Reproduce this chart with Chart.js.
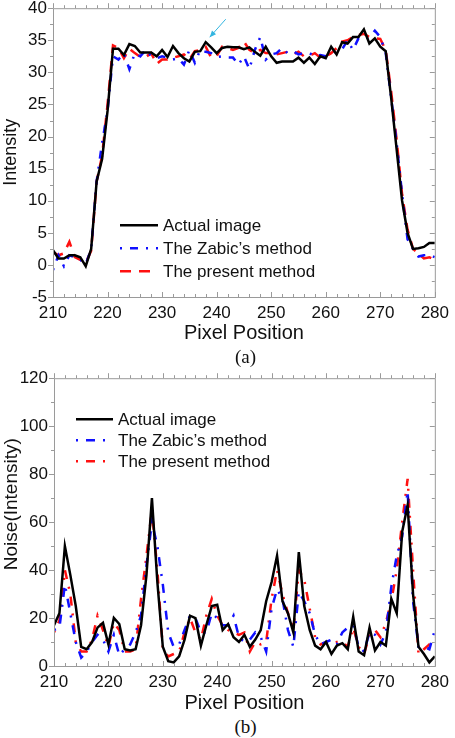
<!DOCTYPE html>
<html>
<head>
<meta charset="utf-8">
<script src="https://cdn.jsdelivr.net/npm/chart.js@4.4.0/dist/chart.umd.min.js"></script>
<style>
  body { margin: 0; background: #fff; width: 455px; height: 738px; position: relative; overflow: hidden; }
  canvas { position: absolute; left: 0; }
  #chartA { top: 0; }
  #chartB { top: 370px; }
  .caption { position: absolute; left: 18px; width: 455px; text-align: center; font: 19px "Liberation Serif", serif; color: #111; line-height: 22px; }
</style>
</head>
<body>
<canvas id="chartA" width="455" height="345"></canvas>
<canvas id="chartB" width="455" height="345"></canvas>
<div class="caption" style="top:346px">(a)</div>
<div class="caption" style="top:716px">(b)</div>
<script>
// pixel positions along the line profile
const pixels = [
  210, 211, 212, 213, 214, 215, 216, 217, 218, 219,
  220, 221, 222, 223, 224, 225, 226, 227, 228, 229,
  230, 231, 232, 233, 234, 235, 236, 237, 238, 239,
  240, 241, 242, 243, 244, 245, 246, 247, 248, 249,
  250, 251, 252, 253, 254, 255, 256, 257, 258, 259,
  260, 261, 262, 263, 264, 265, 266, 267, 268, 269,
  270, 271, 272, 273, 274, 275, 276, 277, 278, 279, 280
];

// (a) intensity
const intensityActual = [
  2.3, 1.0, 1.0, 1.5, 1.5, 1.2, -0.2, 2.5, 13, 16.5,
  24, 33.7, 33.7, 32.7, 34.4, 34.1, 33.1, 33.1, 33.1, 32.5,
  33.5, 32.4, 34.1, 33.0, 32.2, 31.7, 33.2, 33.3, 34.7, 33.9,
  33.0, 33.8, 34.0, 33.9, 33.9, 33.6, 33.9, 33.2, 32.6, 34.0,
  32.5, 31.5, 31.7, 31.7, 31.7, 32.3, 31.5, 32.3, 31.3, 32.5,
  32.2, 34.0, 32.8, 34.7, 34.5, 35.5, 35.5, 36.7, 34.5, 35.3,
  34.0, 33.3, 26, 18, 10, 5, 2.5, 2.6, 2.8, 3.4, 3.4
];
const intensityZabic = [
  -0.8, 1.5, -0.2, 1.5, 1.2, 0.8, 0.1, 2.5, 13, 19,
  24, 32.5, 32.0, 33.0, 30.5, 33.0, 32.5, 33.5, 32.5, 32.2,
  32.5, 32.3, 32.0, 32.2, 31.2, 33.5, 31.5, 33.5, 33.2, 33.0,
  32.4, 32.5, 32.3, 32.3, 31.2, 32.5, 30.5, 33.5, 35.5, 32.0,
  32.8, 33.0, 33.8, 33.0, 33.3, 32.8, 33.0, 33.0, 32.5, 32.7,
  32.5, 33.0, 33.3, 33.6, 35.0, 33.5, 35.3, 35.0, 35.5, 36.5,
  35.5, 33.0, 26, 19, 11, 4, 2.5, 1.3, 1.5, 1.6, 1.2
];
const intensityPresent = [
  2.0, 1.5, 1.8, 3.6, 1.2, 0.8, 0.3, 2.2, 13, 17,
  25, 34.2, 33.8, 32.2, 33.7, 33.0, 32.4, 32.4, 33.0, 31.3,
  32.0, 32.0, 32.3, 32.5, 32.8, 32.0, 33.3, 33.5, 34.0, 32.3,
  32.5, 34.0, 33.8, 33.5, 33.8, 34.8, 33.5, 33.0, 33.5, 33.0,
  33.0, 32.8, 33.0, 33.2, 32.8, 33.2, 32.5, 32.6, 33.0, 32.3,
  32.5, 33.0, 33.8, 34.8, 35.0, 35.5, 35.8, 36.0, 35.5, 35.3,
  35.2, 33.5, 27, 19.5, 11, 5.5, 2.5, 1.8, 1.0, 1.2, 0.8
];

// (b) noise
const noiseActual = [
  17, 22, 50, 38, 25, 8, 7, 10, 16, 18,
  9, 20, 17.5, 7, 6.5, 7, 17, 38, 70, 35,
  8, 2, 1.5, 4, 11, 21, 20, 8.5, 17, 25,
  25.5, 15, 17.5, 12, 10, 13, 8, 11, 15, 27,
  35, 46, 27, 22, 14, 47.5, 25, 15, 8.5, 7,
  10, 5, 8.5, 9.5, 7, 20.5, 6, 4.5, 16, 6.5,
  10, 8.5, 28, 22, 56, 67, 30, 8, 5, 1.5, 4
];
const noiseZabic = [
  15, 16, 34, 22, 10, 3.5, 6, 10, 13, 11,
  6, 13, 4.5, 7, 9, 14, 21, 42, 60, 50,
  34, 14, 8, 9, 15, 21, 20, 14, 14, 22,
  20, 17, 17, 21, 12, 10, 11, 14, 12, 6,
  24, 32, 28, 15, 8, 31, 27, 22, 13, 9,
  10, 11, 9, 14, 16, 17, 8, 6, 14, 13,
  9, 14, 33, 46, 54, 73, 27, 8, 8, 7, 15
];
const noisePresent = [
  14, 19, 40, 30, 10, 6, 6, 11, 21, 15,
  8, 18, 15, 6, 6, 7, 28, 46, 65, 40,
  7, 4, 5, 6, 14, 20, 14, 11, 21, 28,
  21, 17, 15, 14, 13, 14, 6, 10, 9, 10,
  28, 40, 30, 22, 15, 40, 36, 24, 12, 9,
  10, 9.5, 10, 10, 8, 16, 8, 5, 13, 15,
  12, 18, 27, 40, 60, 78, 40, 5, 7, 9, 12
];

const seriesNames = ['Actual image', "The Zabic\u2019s method", 'The present method'];

const FONT = '"Liberation Sans", Arial, sans-serif';
const FRAME = '#9a9a9a';

const toPoints = (ys) => ys.map((y, i) => ({ x: pixels[i], y: y }));

// frame box + small tick marks on all four sides
const framePlugin = {
  id: 'frame',
  afterDraw(chart, args, opts) {
    const { ctx, chartArea: a, scales: { x, y } } = chart;
    ctx.save();
    ctx.strokeStyle = FRAME;
    ctx.lineWidth = 1;
    ctx.strokeRect(a.left + 0.5, a.top + 0.5, a.right - a.left, a.bottom - a.top);
    ctx.beginPath();
    for (let v = x.min; v <= x.max; v += opts.xMinor) {
      const px = Math.round(x.getPixelForValue(v)) + 0.5;
      const len = (v - x.min) % opts.xMajor === 0 ? 5 : 3;
      ctx.moveTo(px, a.top); ctx.lineTo(px, a.top - len);
      ctx.moveTo(px, a.bottom); ctx.lineTo(px, a.bottom - len);
    }
    for (let v = y.min; v <= y.max; v += opts.yMinor) {
      const py = Math.round(y.getPixelForValue(v)) + 0.5;
      const len = (v - y.min) % opts.yMajor === 0 ? 5 : 3;
      ctx.moveTo(a.left, py); ctx.lineTo(a.left - len, py);
      ctx.moveTo(a.right, py); ctx.lineTo(a.right - len, py);
    }
    ctx.stroke();
    ctx.restore();
  }
};

// legend drawn inside the plot area
const innerLegend = {
  id: 'innerLegend',
  afterDraw(chart, args, opts) {
    const ctx = chart.ctx;
    ctx.save();
    chart.data.datasets.forEach((ds, i) => {
      const y = chart.chartArea.top + opts.y + i * opts.rowGap;
      ctx.beginPath();
      ctx.strokeStyle = ds.borderColor;
      ctx.lineWidth = ds.borderWidth;
      ctx.setLineDash(ds.borderDash || []);
      ctx.moveTo(opts.x, y);
      ctx.lineTo(opts.x + opts.lineLen, y);
      ctx.stroke();
      ctx.setLineDash([]);
      ctx.fillStyle = '#111';
      ctx.font = '17px ' + FONT;
      ctx.textBaseline = 'middle';
      ctx.fillText(ds.label, opts.x + opts.lineLen + 5, y + 1);
    });
    ctx.restore();
  }
};

// little cyan arrow pointing at one point of the first series
const arrowPlugin = {
  id: 'arrow',
  afterDraw(chart, args, opts) {
    if (!opts.index && opts.index !== 0) return;
    const meta = chart.getDatasetMeta(0);
    const pt = meta.data[opts.index];
    const tx = pt.x + 4, ty = pt.y - 5;
    const sx = tx + 16, sy = ty - 18;
    const ctx = chart.ctx;
    ctx.save();
    ctx.strokeStyle = '#33b5e0';
    ctx.fillStyle = '#33b5e0';
    ctx.lineWidth = 1;
    ctx.beginPath();
    ctx.moveTo(sx, sy);
    ctx.lineTo(tx, ty);
    ctx.stroke();
    const ang = Math.atan2(ty - sy, tx - sx);
    ctx.beginPath();
    ctx.moveTo(tx, ty);
    ctx.lineTo(tx - 7 * Math.cos(ang - 0.4), ty - 7 * Math.sin(ang - 0.4));
    ctx.lineTo(tx - 7 * Math.cos(ang + 0.4), ty - 7 * Math.sin(ang + 0.4));
    ctx.closePath();
    ctx.fill();
    ctx.restore();
  }
};

// rotated y title, placed at a chosen height
const yTitlePlugin = {
  id: 'yTitle',
  afterDraw(chart, args, opts) {
    const ctx = chart.ctx;
    ctx.save();
    ctx.translate(opts.x, chart.chartArea.top + opts.y);
    ctx.rotate(-Math.PI / 2);
    ctx.fillStyle = '#111';
    ctx.font = opts.size + 'px ' + FONT;
    ctx.textAlign = 'center';
    ctx.textBaseline = 'middle';
    ctx.fillText(opts.text, 0, 0);
    ctx.restore();
  }
};

function buildChart(canvas, sets, yMin, yMax, yStep, extra) {
  return new Chart(canvas, {
    type: 'line',
    data: { datasets: sets },
    options: {
      responsive: false,
      maintainAspectRatio: false,
      animation: false,
      devicePixelRatio: 1,
      layout: { padding: { top: 0, right: 18, left: 0, bottom: 0 } },
      elements: { point: { radius: 0 }, line: { tension: 0, borderCapStyle: 'butt' } },
      scales: {
        x: {
          type: 'linear',
          min: 210,
          max: 280,
          grid: { display: false, drawTicks: false },
          border: { display: false },
          ticks: { stepSize: 10, padding: 6, color: '#111', font: { size: 17, family: FONT } },
          title: { display: true, text: 'Pixel Position', color: '#111', padding: 0, font: { size: 20, family: FONT } },
          afterFit: (s) => { s.height = extra.xHeight; }
        },
        y: {
          min: yMin,
          max: yMax,
          grid: { display: false, drawTicks: false },
          border: { display: false },
          ticks: { stepSize: yStep, padding: 6, color: '#111', font: { size: 17, family: FONT } },
          afterFit: (s) => { s.width = extra.yWidth; }
        }
      },
      plugins: {
        legend: { display: false },
        tooltip: { enabled: false },
        frame: extra.frame,
        innerLegend: extra.legend,
        arrow: extra.arrow || {},
        yTitle: extra.yTitle
      }
    },
    plugins: [framePlugin, innerLegend, arrowPlugin, yTitlePlugin]
  });
}

// first pass finds where the plot box starts, second pass places it at areaTop..areaBottom
function makeChart(id, sets, yMin, yMax, yStep, extra) {
  const canvas = document.getElementById(id);
  let chart = buildChart(canvas, sets, yMin, yMax, yStep, extra);
  const ct = chart.chartArea.top;
  chart.destroy();
  const top = extra.areaTop - ct;
  const h = Math.round(extra.areaBottom + extra.xHeight - top);
  canvas.width = 455;
  canvas.height = h;
  canvas.style.width = '455px';
  canvas.style.height = h + 'px';
  canvas.style.top = top + 'px';
  chart = buildChart(canvas, sets, yMin, yMax, yStep, extra);
  return chart;
}

makeChart('chartA', [
  { label: seriesNames[0], data: toPoints(intensityActual), borderColor: '#000', borderWidth: 2.5 },
  { label: seriesNames[1], data: toPoints(intensityZabic), borderColor: '#1010ff', borderWidth: 2.5, borderDash: [2, 8, 8, 8] },
  { label: seriesNames[2], data: toPoints(intensityPresent), borderColor: '#ff1010', borderWidth: 2.5, borderDash: [11, 8] }
], -5, 40, 5, {
  areaTop: 8, areaBottom: 297, xHeight: 48, yWidth: 53,
  frame: { xMajor: 10, xMinor: 2, yMajor: 5, yMinor: 2.5 },
  legend: { x: 120, y: 217, rowGap: 23, lineLen: 38 },
  arrow: { index: 28 },
  yTitle: { text: 'Intensity', x: 11, y: 144, size: 18 }
});

makeChart('chartB', [
  { label: seriesNames[0], data: toPoints(noiseActual), borderColor: '#000', borderWidth: 2.5 },
  { label: seriesNames[1], data: toPoints(noiseZabic), borderColor: '#1010ff', borderWidth: 2.5, borderDash: [2, 8, 9, 8] },
  { label: seriesNames[2], data: toPoints(noisePresent), borderColor: '#ff1010', borderWidth: 2.5, borderDash: [2, 8, 9, 8] }
], 0, 120, 20, {
  areaTop: 378, areaBottom: 666, xHeight: 49, yWidth: 54,
  frame: { xMajor: 10, xMinor: 2, yMajor: 20, yMinor: 10 },
  legend: { x: 76, y: 41, rowGap: 21, lineLen: 37 },
  yTitle: { text: 'Noise(Intensity)', x: 12, y: 126, size: 19 }
});
</script>
</body>
</html>
